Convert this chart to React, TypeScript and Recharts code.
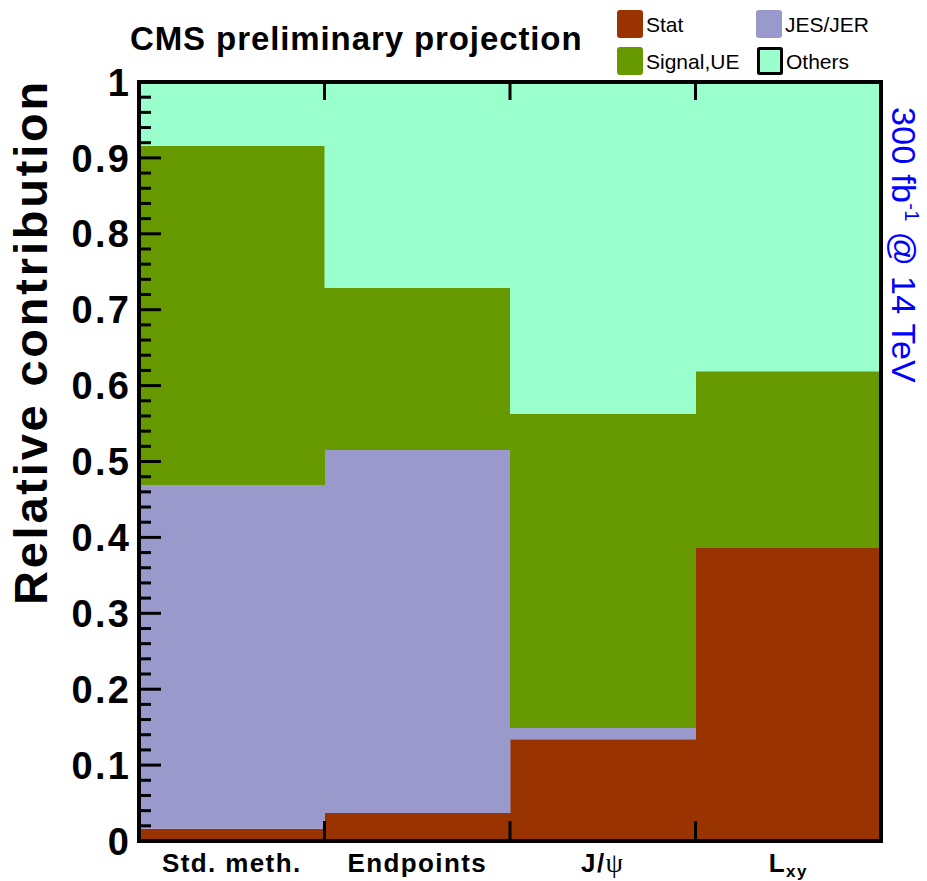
import React from 'react';
import { BarChart, Bar, XAxis, YAxis } from 'recharts';

const categories = ['Std. meth.', 'Endpoints', 'J/ψ', 'Lxy'];
const statValues = [0.016, 0.037, 0.134, 0.386];
const jesValues = [0.453, 0.478, 0.015, 0];
const signalValues = [0.447, 0.214, 0.414, 0.233];
const otherValues = [0.084, 0.271, 0.437, 0.381];
const yMajorLabels = [0, 0.1, 0.2, 0.3, 0.4, 0.5, 0.6, 0.7, 0.8, 0.9, 1];

const series = [
  { key: 'stat', name: 'Stat', color: '#993300' },
  { key: 'jes', name: 'JES/JER', color: '#9999cc' },
  { key: 'signal', name: 'Signal,UE', color: '#669900' },
  { key: 'others', name: 'Others', color: '#99ffcc' },
];

const data = categories.map((cat, i) => ({
  cat,
  stat: statValues[i],
  jes: jesValues[i],
  signal: signalValues[i],
  others: otherValues[i],
}));

const W = 927;
const H = 881;
const LEFT = 139;
const RIGHT = 881;
const TOP = 82;
const BOTTOM = 841;
const HALF_BAND = (RIGHT - LEFT) / categories.length / 2;
const FONT = '"Liberation Sans", Arial, Helvetica, sans-serif';

// minor ticks every 0.02
const yTicks = Array.from({ length: 51 }, (_, i) => i / 50);
const isMajor = (v: number) => yMajorLabels.some((m) => Math.abs(m - v) < 1e-6);
const fmt = (v: number) => (v === 0 ? '0' : v === 1 ? '1' : v.toFixed(1));

const LeftTick = (props: any) => {
  const { x, y, payload } = props;
  const major = isMajor(payload.value);
  return (
    <g>
      <line x1={x} x2={x + (major ? 22 : 12)} y1={y} y2={y} stroke="#000" strokeWidth={3} />
      {major && (
        <text x={x - 8} y={y} dy="0.36em" textAnchor="end" fontFamily={FONT} fontWeight="bold" fontSize={38} letterSpacing={2.2} fill="#000">
          {fmt(payload.value)}
        </text>
      )}
    </g>
  );
};

const RightTick = (props: any) => {
  const { x, y, payload } = props;
  const major = isMajor(payload.value);
  return <line x1={x} x2={x - (major ? 22 : 12)} y1={y} y2={y} stroke="#000" strokeWidth={3} />;
};

const BottomTick = (props: any) => {
  const { x, y, payload, index } = props;
  const label = payload.value as string;
  let text: React.ReactNode = label;
  if (label === 'J/ψ') {
    text = (
      <>
        <tspan>J/</tspan>
        <tspan fontWeight="normal" fontFamily='"Liberation Serif", serif' fontSize={28}>ψ</tspan>
      </>
    );
  } else if (label === 'Lxy') {
    text = (
      <>
        <tspan>L</tspan>
        <tspan fontSize={17} dy={5}>xy</tspan>
      </>
    );
  }
  return (
    <g>
      {index > 0 && <line x1={x - HALF_BAND} x2={x - HALF_BAND} y1={y} y2={y - 20} stroke="#000" strokeWidth={3} />}
      <text x={x} y={y + 31} textAnchor="middle" fontFamily={FONT} fontWeight="bold" fontSize={26} letterSpacing={1.4} fill="#000">
        {text}
      </text>
    </g>
  );
};

const TopTick = (props: any) => {
  const { x, y, index } = props;
  if (index === 0) return <g />;
  return <line x1={x - HALF_BAND} x2={x - HALF_BAND} y1={y} y2={y + 18} stroke="#000" strokeWidth={3} />;
};

const frameLine = { stroke: '#000', strokeWidth: 4, strokeLinecap: 'square' as const };

const legendSlots = [
  { x: 617, y: 10 },
  { x: 756, y: 10 },
  { x: 617, y: 47 },
  { x: 757, y: 47 },
];

export default function App() {
  return (
    <div style={{ position: 'absolute', left: 0, top: 0, width: W, height: H, background: '#fff' }}>
      <BarChart
        width={W}
        height={H}
        data={data}
        margin={{ top: 0, right: 0, bottom: 0, left: 0 }}
        barCategoryGap={0}
        barGap={0}
      >
        {series.map((s) => (
          <Bar key={s.key} dataKey={s.key} name={s.name} stackId="a" fill={s.color} isAnimationActive={false} />
        ))}
        <XAxis dataKey="cat" height={H - BOTTOM} axisLine={frameLine} tickLine={false} tickSize={0} tickMargin={0} interval={0} tick={<BottomTick />} />
        <XAxis xAxisId="top" dataKey="cat" orientation="top" height={TOP} axisLine={frameLine} tickLine={false} tickSize={0} tickMargin={0} interval={0} tick={<TopTick />} />
        <YAxis type="number" domain={[0, 1]} ticks={yTicks} width={LEFT} axisLine={frameLine} tickLine={false} tickSize={0} tickMargin={0} interval={0} tick={<LeftTick />} />
        <YAxis yAxisId="right" orientation="right" type="number" domain={[0, 1]} ticks={yTicks} width={W - RIGHT} axisLine={frameLine} tickLine={false} tickSize={0} tickMargin={0} interval={0} tick={<RightTick />} />
      </BarChart>
      <svg width={W} height={H} style={{ position: 'absolute', left: 0, top: 0, pointerEvents: 'none' }}>
        <text x={130} y={50} fontFamily={FONT} fontWeight="bold" fontSize={33} letterSpacing={0.9} fill="#000">
          CMS preliminary projection
        </text>
        <text x={47} y={342} transform="rotate(-90 47 342)" textAnchor="middle" fontFamily={FONT} fontWeight="bold" fontSize={47} letterSpacing={2.8} fill="#000">
          Relative contribution
        </text>
        <text x={892} y={107} transform="rotate(90 892 107)" fontFamily={FONT} fontSize={34} letterSpacing={0.3} fill="#0000ff">
          300 fb<tspan fontSize={20} dy={-13}>-1</tspan>
          <tspan dy={13}> @ 14 TeV</tspan>
        </text>
        {series.map((s, i) => {
          const slot = legendSlots[i];
          const outlined = s.key === 'others';
          return (
            <g key={s.key}>
              <rect
                x={slot.x + (outlined ? 1.5 : 0)}
                y={slot.y + (outlined ? 1.5 : 0)}
                width={outlined ? 23 : 26}
                height={outlined ? 25 : 28}
                rx={outlined ? 1 : 3}
                fill={s.color}
                stroke={outlined ? '#000' : 'none'}
                strokeWidth={outlined ? 3 : 0}
              />
              <text x={slot.x + 29} y={slot.y + 22} fontFamily={FONT} fontSize={21} fill="#000">
                {s.name}
              </text>
            </g>
          );
        })}
      </svg>
    </div>
  );
}
